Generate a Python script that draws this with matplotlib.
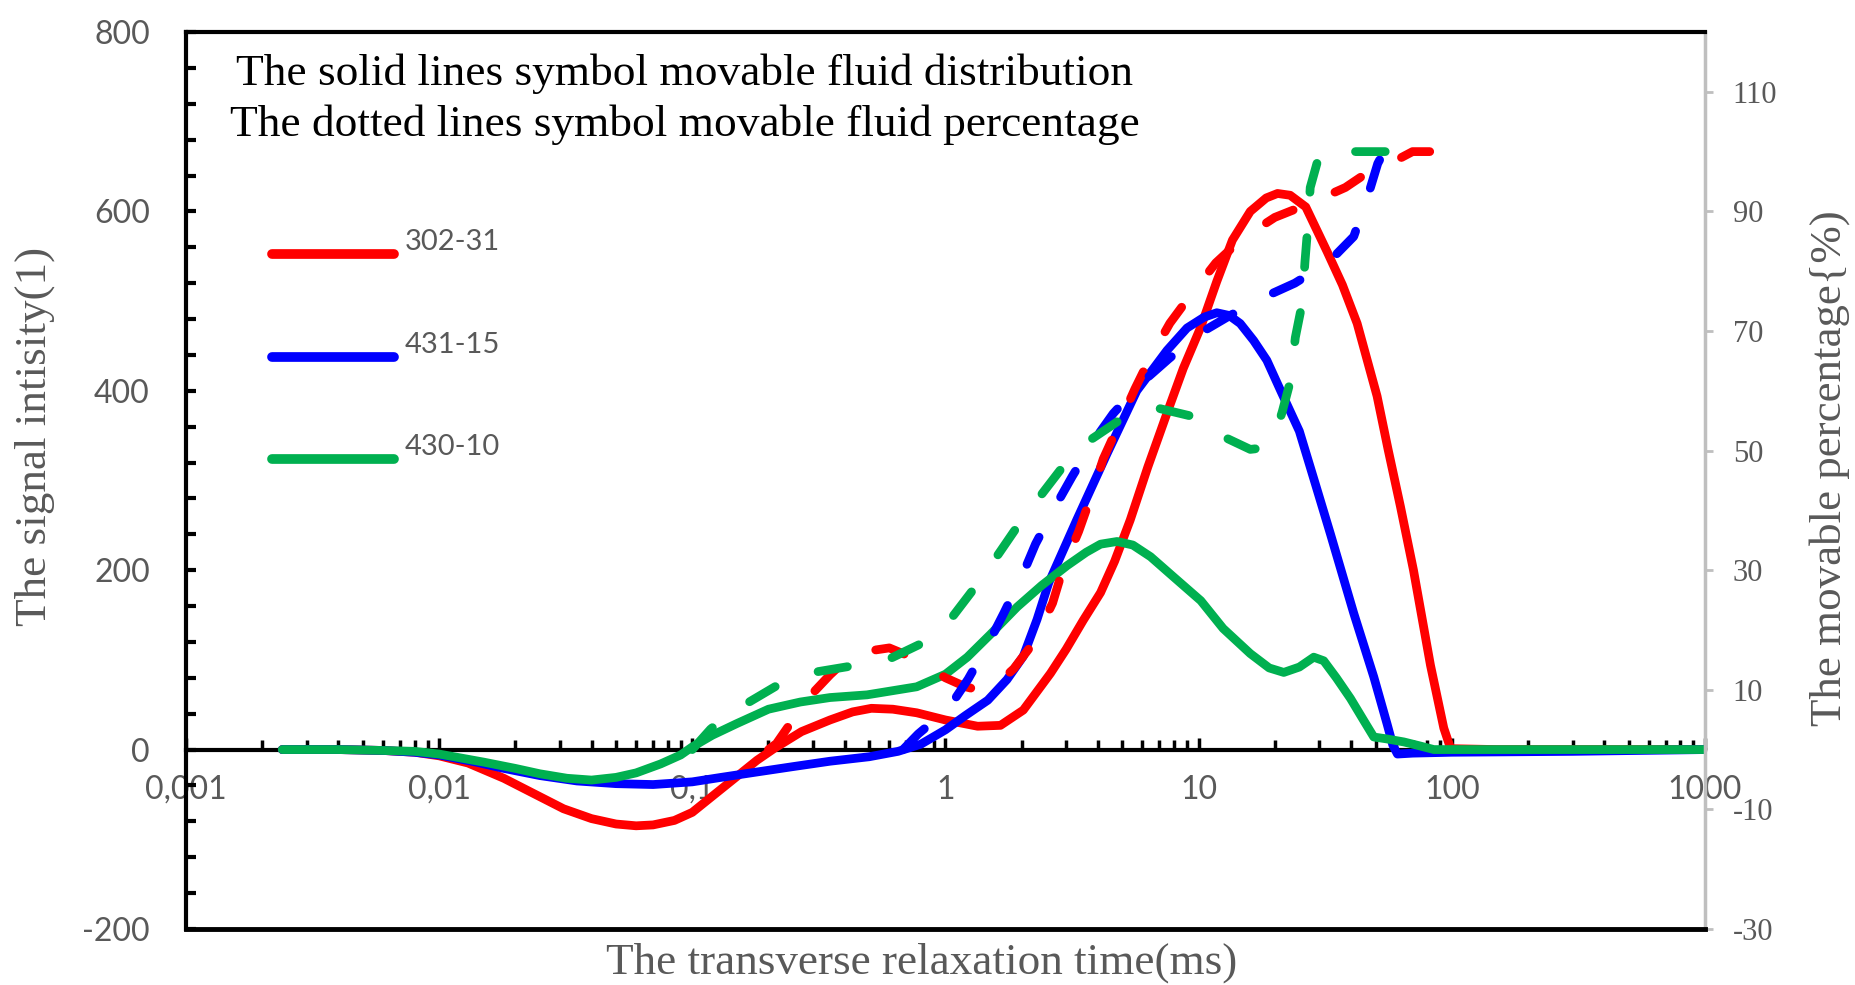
import matplotlib
matplotlib.use("Agg")
import matplotlib.pyplot as plt
from matplotlib.ticker import FixedLocator, LogLocator, MultipleLocator, NullFormatter
from matplotlib.lines import Line2D

plt.rcParams["axes.unicode_minus"] = False

# ---------------- data ----------------
# solid lines: movable fluid distribution (left axis)
red_x = [0.0024, 0.004, 0.006, 0.008, 0.01, 0.013, 0.018, 0.024, 0.031, 0.04, 0.05, 0.06,
         0.07, 0.085, 0.1, 0.12, 0.15, 0.18, 0.21, 0.27, 0.35, 0.43, 0.51, 0.62, 0.77, 1.0,
         1.34, 1.65, 2.03, 2.6, 3.0, 3.5, 4.1, 4.66, 5.37, 6.3, 7.5, 8.7, 10.2, 11.8, 13.6,
         16, 18.5, 20.5, 23, 26.5, 32.2, 37, 42.3, 50.7, 56, 62.7, 70.6, 82.4, 93, 99, 150,
         300, 1000]
red_y = [0, 0, -1, -3, -7, -15, -32, -50, -66, -77, -83, -85, -84, -79, -70, -52, -30, -12,
         1, 20, 33, 42, 46, 45, 41, 33, 26, 27, 44, 85, 112, 144, 175, 210, 256, 315, 375,
         425, 471, 522, 568, 600, 615, 620, 618, 605, 555, 518, 475, 394, 335, 271, 200, 94,
         24, 1, 0, 0, 0]

blue_x = [0.0024, 0.004, 0.006, 0.008, 0.01, 0.014, 0.018, 0.025, 0.035, 0.05, 0.07, 0.1,
          0.13, 0.18, 0.25, 0.35, 0.5, 0.65, 0.8, 1.0, 1.2, 1.47, 1.75, 2.03, 2.3, 2.56, 3.3,
          4.35, 5.7, 7.5, 9.0, 10.5, 11.8, 13.2, 14.6, 16.5, 18.6, 21.1, 25, 29, 33.2, 41,
          49.2, 55.6, 58.5, 61, 70, 100, 300, 1000]
blue_y = [0, 0, -1, -3, -6, -14, -21, -29, -35, -38, -39, -36, -31, -25, -19, -13, -8, -2, 6,
          22, 38, 55, 78, 104, 145, 186, 256, 330, 400, 445, 470, 482, 487, 484, 475, 456,
          434, 400, 355, 295, 240, 152, 81, 28, 5, -5, -4, -3, -2, 0]

green_x = [0.0024, 0.004, 0.006, 0.008, 0.01, 0.015, 0.02, 0.025, 0.032, 0.04, 0.05, 0.06,
           0.075, 0.09, 0.1, 0.12, 0.15, 0.2, 0.267, 0.35, 0.49, 0.77, 1.0, 1.22, 1.5, 1.92,
           2.4, 3.02, 3.6, 4.1, 4.77, 5.5, 6.46, 8.0, 10.2, 12.5, 16, 19, 21.7, 25, 28.5,
           31.2, 35, 39.8, 45, 49.2, 55, 64.7, 75, 85, 1000]
green_y = [0, 0, -1, -2, -5, -14, -21, -27, -32, -34, -31, -26, -16, -6, 3, 16, 29, 45, 53,
           58, 61, 70, 84, 103, 128, 159, 183, 205, 220, 229, 232, 228, 215, 192, 166, 135,
           107, 91, 86, 92, 103, 99, 80, 57, 32, 14, 12, 8.5, 4, 0, 0]

# dashed lines: movable fluid percentage (right axis, %)
red_pct_x = [0.2, 0.215, 0.25, 0.3, 0.35, 0.4, 0.5, 0.6, 0.75, 1.0, 1.2, 1.4, 1.6, 1.86,
             2.24, 2.65, 2.9, 3.36, 3.7, 4.2, 4.8, 5.6, 6.4, 7.7, 9.3, 11.7, 14.8, 20, 27,
             38, 46.5, 60, 70, 100]
red_pct_y = [0, 1, 5, 9.5, 12.5, 14.8, 16.5, 17, 15.3, 12, 10.5, 9.8, 11, 13.5, 18, 24.5,
             30, 36.5, 41.5, 48.6, 54, 60.3, 65.3, 71.3, 76, 81.4, 85.4, 89, 91.2, 94, 96.5,
             98.5, 100, 100]

blue_pct_x = [0.68, 0.78, 1.03, 1.23, 1.48, 1.7, 2.02, 2.27, 2.72, 3.17, 3.85, 4.6, 5.9, 7.6,
              10, 13.2, 18, 24, 32.6, 41, 46.5, 51, 54]
blue_pct_y = [0, 2.6, 6.9, 11.8, 17.8, 22.8, 29.3, 34.4, 40.7, 45.7, 51.6, 56.2, 61.2, 65.3,
              69.5, 72.5, 75.6, 78, 81.5, 85.8, 92.4, 98, 100]

green_pct_x = [0.1, 0.118, 0.14, 0.17, 0.22, 0.31, 0.43, 0.61, 0.81, 1.07, 1.29, 1.62, 1.93,
               2.42, 2.92, 3.8, 5.0, 6.9, 9.5, 13, 16, 17.6, 20, 21.4, 23.1, 24.1, 25.7,
               26.3, 27, 27.6, 30, 35, 44.6, 62]
green_pct_y = [0, 3.4, 6, 8.1, 10.9, 13, 14, 15.3, 17.8, 22.3, 26.8, 32.7, 37.4, 42.9, 47.4,
               52, 55.4, 57.1, 55.7, 52, 50.2, 50.4, 52.5, 56.5, 61.8, 68.9, 74.8, 81.5,
               87.5, 94, 99.5, 100, 100, 100]

sample_names = ["302-31", "431-15", "430-10"]
colors = ["#FF0000", "#0000FF", "#00B050"]

x_ticks = [0.001, 0.01, 0.1, 1, 10, 100, 1000]
x_ticklabels = ["0,001", "0,01", "0,1", "1", "10", "100", "1000"]
left_ticks = [-200, 0, 200, 400, 600, 800]
right_ticks = [-30, -10, 10, 30, 50, 70, 90, 110]

note_lines = ["The solid lines symbol movable fluid distribution",
              "The dotted lines symbol movable fluid percentage"]
xlabel = "The transverse relaxation time(ms)"
ylabel_left = "The signal intisity(1)"
ylabel_right = "The movable percentage{%)"

# ---------------- styling ----------------
GREY = "#595959"
SANS = ["Lato", "DejaVu Sans"]
SERIF = ["Liberation Serif", "DejaVu Serif"]
LW = 6.3
DASH = (3.4, 5.2)

fig = plt.figure(figsize=(18.56, 9.85), dpi=100)
ax = fig.add_axes([0.1002, 0.0569, 0.8184, 0.9106])
ax2 = ax.twinx()

ax.set_xscale("log")
ax.set_xlim(0.001, 1000)
ax.set_ylim(-200, 800)
ax2.set_ylim(-30, 120)

# solid curves
for xs, ys, c in [(red_x, red_y, colors[0]), (blue_x, blue_y, colors[1]),
                  (green_x, green_y, colors[2])]:
    ax.plot(xs, ys, color=c, lw=LW, solid_capstyle="round", solid_joinstyle="round",
            zorder=3)

# dashed curves
for xs, ys, c in [(red_pct_x, red_pct_y, colors[0]), (blue_pct_x, blue_pct_y, colors[1]),
                  (green_pct_x, green_pct_y, colors[2])]:
    ax2.plot(xs, ys, color=c, lw=LW, dashes=DASH, dash_capstyle="round",
             dash_joinstyle="round", zorder=3)

# spines / axes
for s in ["top", "right"]:
    ax.spines[s].set_visible(False)
ax.spines["left"].set_linewidth(3)
ax.spines["left"].set_color("black")
ax.spines["bottom"].set_position(("data", 0))
ax.spines["bottom"].set_linewidth(3)
ax.spines["bottom"].set_color("black")
ax.spines["bottom"].set_zorder(2)

ax2.spines["left"].set_visible(False)
ax2.spines["top"].set_linewidth(3)
ax2.spines["top"].set_color("black")
ax2.spines["bottom"].set_linewidth(3.5)
ax2.spines["bottom"].set_color("black")
ax2.spines["right"].set_linewidth(2.5)
ax2.spines["right"].set_color("#BFBFBF")

# x ticks
ax.xaxis.set_major_locator(FixedLocator(x_ticks))
ax.set_xticklabels(x_ticklabels)
ax.xaxis.set_minor_locator(LogLocator(base=10, subs=range(2, 10), numticks=20))
ax.xaxis.set_minor_formatter(NullFormatter())
ax.tick_params(axis="x", which="major", direction="in", length=9, width=2.5, pad=18,
               labelsize=23, labelcolor=GREY, color="black")
ax.tick_params(axis="x", which="minor", direction="in", length=7, width=2.5, color="black")
for lab in ax.get_xticklabels():
    lab.set_family(SANS)

# left y ticks
ax.yaxis.set_major_locator(FixedLocator(left_ticks))
ax.yaxis.set_minor_locator(MultipleLocator(40))
ax.tick_params(axis="y", which="major", direction="in", length=7, width=3, pad=26,
               labelsize=23, labelcolor=GREY)
ax.tick_params(axis="y", which="minor", direction="in", length=7, width=3)
for lab in ax.get_yticklabels():
    lab.set_family(SANS)

# right y ticks
ax2.yaxis.set_major_locator(FixedLocator(right_ticks))
ax2.tick_params(axis="y", which="major", direction="out", length=6, width=2,
                color="#BFBFBF", pad=14, labelsize=22, labelcolor=GREY)
for lab in ax2.get_yticklabels():
    lab.set_family(SERIF)

# legend (keys drawn manually in axes fraction)
leg_y = [0.7525, 0.6377, 0.524]
for name, c, yy in zip(sample_names, colors, leg_y):
    ax.add_line(Line2D([0.0566, 0.137], [yy, yy], transform=ax.transAxes, color=c,
                       lw=7, solid_capstyle="round", zorder=4))
    ax.text(0.144, yy + 0.013, name, transform=ax.transAxes, fontsize=21, color=GREY,
            family=SANS, ha="left", va="center", zorder=4)

# note text
ax.text(0.3285, 0.9535, note_lines[0], transform=ax.transAxes, fontsize=32.7,
        family=SERIF, color="black", ha="center", va="center")
ax.text(0.3285, 0.8965, note_lines[1], transform=ax.transAxes, fontsize=32.7,
        family=SERIF, color="black", ha="center", va="center")

# axis titles
fig.text(0.0189, 0.5574, ylabel_left, rotation=90, fontsize=32.5, family=SERIF,
         color=GREY, ha="center", va="center")
fig.text(0.4968, 0.0224, xlabel, fontsize=32.5, family=SERIF, color=GREY,
         ha="center", va="center")
fig.text(0.9855, 0.5249, ylabel_right, rotation=90, fontsize=32.4, family=SERIF,
         color=GREY, ha="center", va="center")

fig.savefig("out.png", dpi=100)
